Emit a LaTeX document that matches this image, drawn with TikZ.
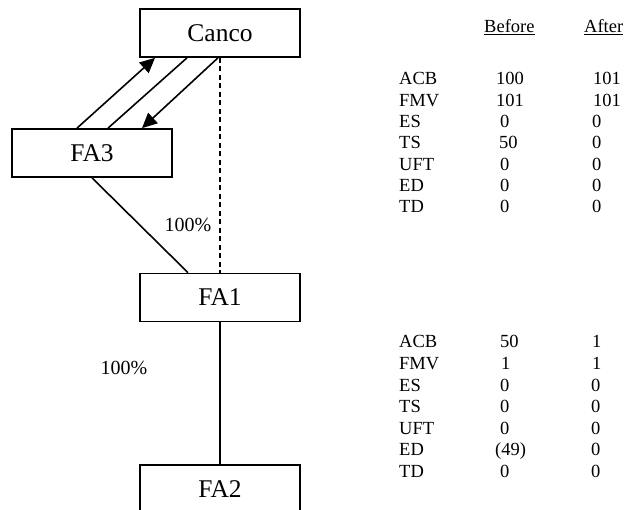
\documentclass[tikz,border=0pt]{standalone}
\usepackage{fontspec}
\setmainfont{Liberation Serif}
\usetikzlibrary{arrows.meta}
\begin{document}
\begin{tikzpicture}[x=1pt,y=-1pt,
  box/.style={draw,line width=1.7pt,minimum width=160pt,minimum height=48pt,inner sep=0pt,font=\fontsize{25.5}{30}\selectfont},
  conn/.style={line width=1.6pt},
  arr/.style={conn,-{Triangle[length=15pt,width=14pt]}},
  pct/.style={inner sep=0pt,font=\fontsize{20}{24}\selectfont},
  cell/.style={anchor=base west,inner sep=0pt,font=\fontsize{18.5}{22}\selectfont}]
\useasboundingbox (0,0) rectangle (626,510);
\clip (0,0) rectangle (626,510);
\node[box] (canco) at (220,33) {Canco};
\node[box] (fa3) at (92,153) {FA3};
\node[box] (fa1) at (220,297.5) {FA1};
\node[box] (fa2) at (220,489) {FA2};
% connectors
\draw[arr] ([xshift=-15pt]fa3.north) -- ([xshift=-65pt]canco.south);
\draw[conn] ([xshift=16pt]fa3.north) -- ([xshift=-33pt]canco.south);
\draw[arr] ([xshift=-2pt]canco.south) -- ([xshift=50pt]fa3.north);
\draw[conn,dash pattern=on 5pt off 3.5pt] (canco.south) -- (fa1.north);
\draw[conn] (fa3.south) -- ([xshift=-32pt]fa1.north);
\draw[conn] (fa1.south) -- (fa2.north);
\node[pct] (p1) at (188,225) {100\%};
\node[pct] (p2) at (124,368) {100\%};
% table headers
\node[cell] (hb) at (484,33) {\underline{Before}};
\node[cell] (ha) at (584,33) {\underline{After}};
% top table
\foreach \lab/\b/\bx/\a/\ax [count=\i from 0] in {ACB/100/496/101/593, FMV/101/496/101/593, ES/0/500/0/592, TS/50/499/0/592, UFT/0/500/0/592, ED/0/500/0/592, TD/0/500/0/592}{
  \node[cell] (tl\i) at (399,85+21.33*\i) {\lab};
  \node[cell] (tb\i) at (\bx,85+21.33*\i) {\b};
  \node[cell] (ta\i) at (\ax,85+21.33*\i) {\a};
}
% bottom table
\foreach \lab/\b/\bx/\a/\ax [count=\i from 0] in {ACB/50/500/1/592, FMV/1/501/1/592, ES/0/500/0/591, TS/0/500/0/591, UFT/0/500/0/591, ED/(49)/495/0/591, TD/0/500/0/591}{
  \node[cell] (bl\i) at (399,348+21.5*\i) {\lab};
  \node[cell] (bb\i) at (\bx,348+21.5*\i) {\b};
  \node[cell] (ba\i) at (\ax,348+21.5*\i) {\a};
}
\end{tikzpicture}
\end{document}
